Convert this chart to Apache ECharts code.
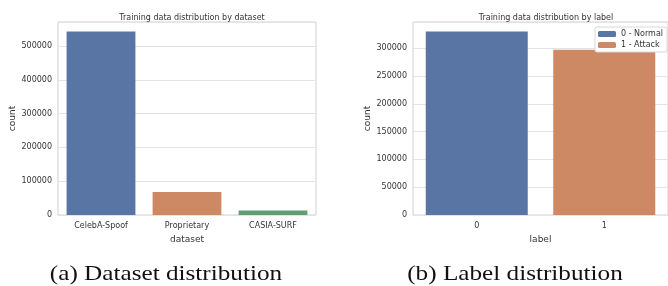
<!DOCTYPE html>
<html>
<head>
<meta charset="utf-8">
<script src="https://cdn.jsdelivr.net/npm/echarts@6/dist/echarts.min.js"></script>
<style>
  html, body { margin: 0; padding: 0; background: #fff; }
  #chart { width: 668px; height: 286px; }
</style>
</head>
<body>
<div id="chart"></div>
<script>
// data
const datasetNames = ['CelebA-Spoof', 'Proprietary', 'CASIA-SURF'];
const datasetCounts = [543000, 68000, 13000];
const labelNames = ['0', '1'];
const labelCounts = [330000, 297000];
const legendNames = ['0 - Normal', '1 - Attack'];
const countTicksA = [0, 100000, 200000, 300000, 400000, 500000];
const countTicksB = [0, 50000, 100000, 150000, 200000, 250000, 300000];
const captions = ['(a) Dataset distribution', '(b) Label distribution'];

const palette = ['#5975a4', '#cc8963', '#5f9e6e'];
const textColor = '#333';
const gridColor = '#e3e3e3';
const font = 'DejaVu Sans';

const chart = echarts.init(document.getElementById('chart'));

function yAxis(idx, max, step) {
  return {
    type: 'value', gridIndex: idx, min: 0, max: max, interval: step,
    name: 'count', nameLocation: 'middle', nameGap: 41,
    nameTextStyle: { color: textColor, fontSize: 9, fontFamily: font },
    axisLine: { show: false }, axisTick: { show: false },
    axisLabel: { color: textColor, fontSize: 8, fontFamily: font, margin: 6, showMaxLabel: false,
      formatter: v => String(v) },
    splitLine: { lineStyle: { color: gridColor, width: 1 } }
  };
}

function xAxis(idx, cats, name) {
  return {
    type: 'category', gridIndex: idx, data: cats,
    name: name, nameLocation: 'middle', nameGap: 17,
    nameTextStyle: { color: textColor, fontSize: 9, fontFamily: font },
    axisLine: { show: false }, axisTick: { show: false },
    axisLabel: { color: textColor, fontSize: 8, fontFamily: font, margin: 7 }
  };
}

function caption(text, x) {
  return {
    type: 'text', x: x, y: 274, scaleX: 1.2,
    style: { text: text, font: '21px "Liberation Serif"', fill: '#111',
      textAlign: 'center', textVerticalAlign: 'middle' }
  };
}

const option = {
  animation: false,
  backgroundColor: '#fff',
  title: [
    { text: 'Training data distribution by dataset', left: 187, top: 9, textAlign: 'center',
      textStyle: { fontSize: 8, fontWeight: 'normal', color: textColor, fontFamily: font } },
    { text: 'Training data distribution by label', left: 541, top: 9, textAlign: 'center',
      textStyle: { fontSize: 8, fontWeight: 'normal', color: textColor, fontFamily: font } }
  ],
  graphic: [caption(captions[0], 166), caption(captions[1], 515)],
  legend: {
    data: legendNames, orient: 'vertical', right: 1, top: 27,
    itemWidth: 18, itemHeight: 6, itemGap: 3, padding: [3, 4, 3, 3],
    backgroundColor: '#fff', borderColor: '#d8d8d8', borderWidth: 1, borderRadius: 2,
    textStyle: { color: textColor, fontSize: 8, fontFamily: font }
  },
  grid: [
    { left: 58, top: 22, width: 258, height: 193, show: true, borderColor: '#d0d0d0', borderWidth: 1 },
    { left: 413, top: 22, width: 256, height: 193, show: true, borderColor: '#d0d0d0', borderWidth: 1 }
  ],
  xAxis: [xAxis(0, datasetNames, 'dataset'), xAxis(1, labelNames, 'label')],
  yAxis: [
    yAxis(0, 571000, countTicksA[1] - countTicksA[0]),
    yAxis(1, 347000, countTicksB[1] - countTicksB[0])
  ],
  series: [
    {
      type: 'bar', xAxisIndex: 0, yAxisIndex: 0, barWidth: '80%',
      data: datasetCounts.map((v, i) => ({ value: v, itemStyle: { color: palette[i] } }))
    },
    {
      name: legendNames[0], type: 'bar', xAxisIndex: 1, yAxisIndex: 1, stack: 'lbl', barWidth: '80%',
      itemStyle: { color: palette[0] },
      data: [labelCounts[0], '-']
    },
    {
      name: legendNames[1], type: 'bar', xAxisIndex: 1, yAxisIndex: 1, stack: 'lbl', barWidth: '80%',
      itemStyle: { color: palette[1] },
      data: ['-', labelCounts[1]]
    }
  ]
};

chart.setOption(option);
</script>
</body>
</html>
